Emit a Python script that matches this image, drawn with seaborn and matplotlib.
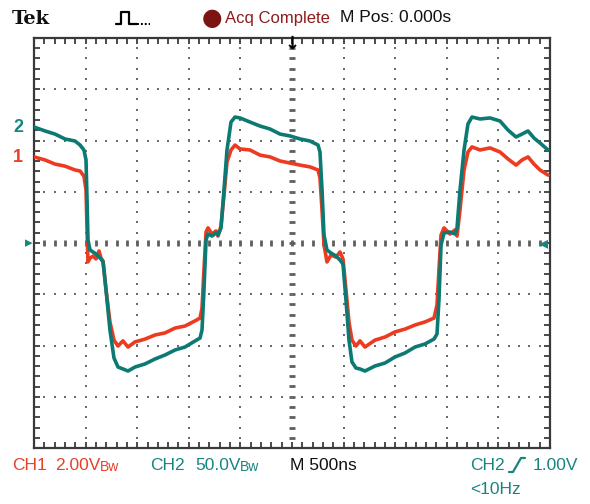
import numpy as np
import pandas as pd
import matplotlib
matplotlib.use("Agg")
import matplotlib.pyplot as plt
from matplotlib.ticker import MultipleLocator
from matplotlib.lines import Line2D
import seaborn as sns

time_ns = [-2500, -2393, -2297, -2200, -2103, -2054, -2016, -1996, -1986, -1977,
           -1957, -1928, -1899, -1870, -1851, -1831, -1802, -1764, -1725, -1686,
           -1638, -1589, -1521, -1424, -1328, -1231, -1134, -1037, -940, -891,
           -872, -853, -833, -814, -775, -736, -717, -688, -659, -630,
           -591, -552, -504, -407, -310, -213, -116, -19, 78, 174,
           252, 271, 291, 310, 339, 378, 426, 465, 494, 523,
           552, 581, 620, 659, 707, 804, 901, 998, 1095, 1192,
           1289, 1376, 1405, 1424, 1444, 1473, 1531, 1580, 1599, 1628,
           1667, 1705, 1744, 1822, 1919, 2016, 2093, 2171, 2229, 2287,
           2345, 2403, 2481]

ch1_volts = [3.36, 3.24, 3.08, 3.00, 2.85, 2.81, 2.61, 2.07, 0.51, -0.74,
             -0.59, -0.51, -0.62, -0.31, -0.59, -0.70, -1.83, -3.08, -3.79, -4.02,
             -3.82, -4.06, -3.86, -3.75, -3.59, -3.51, -3.32, -3.24, -3.04, -2.93,
             -2.54, -1.05, 0.43, 0.59, 0.35, 0.47, 0.27, 0.66, 1.87, 3.16,
             3.63, 3.82, 3.67, 3.63, 3.43, 3.36, 3.20, 3.12, 3.04, 2.97,
             2.85, 2.54, 1.29, -0.08, -0.74, -0.47, -0.55, -0.35, -0.62, -1.83,
             -3.08, -3.79, -4.02, -3.82, -4.06, -3.79, -3.67, -3.47, -3.36, -3.20,
             -3.08, -2.93, -2.42, -1.05, 0.31, 0.59, 0.35, 0.51, 0.27, 1.29,
             2.85, 3.55, 3.75, 3.63, 3.71, 3.55, 3.28, 3.04, 3.24, 3.36,
             3.08, 2.85, 2.65]

ch2_volts = [113.2, 109.3, 106.3, 101.5, 99.5, 95.6, 90.7, 81.0, 42.0, 2.9,
             -6.8, -8.8, -10.7, -13.7, -15.6, -18.5, -45.9, -84.9, -112.2, -121.0,
             -122.9, -124.9, -121.0, -118.0, -113.2, -109.3, -104.4, -101.5, -95.6, -92.7,
             -84.9, -45.9, 2.9, 8.8, 6.8, 9.8, 7.8, 14.6, 51.7, 90.7,
             118.0, 122.9, 122.0, 118.0, 114.1, 111.2, 106.3, 104.4, 101.5, 99.5,
             95.6, 88.8, 51.7, 7.8, -6.8, -9.8, -12.7, -16.6, -20.5, -55.6,
             -94.6, -116.1, -122.0, -122.9, -124.9, -120.0, -117.1, -111.2, -107.3, -101.5,
             -98.5, -93.7, -88.8, -55.6, -2.0, 9.8, 10.7, 8.8, 14.6, 51.7,
             90.7, 116.1, 122.9, 121.0, 122.0, 119.0, 110.2, 103.4, 106.3, 109.3,
             102.4, 97.6, 90.7]

channels = ["CH1", "CH2"]
volts_per_div = [2.0, 50.0]
ns_per_div = 500
channel_colors = ["#ec3b20", "#0c7a72"]

# ---- style ----
sns.set_style("white")
plt.rcParams["font.family"] = ["Liberation Sans", "DejaVu Sans"]

fig = plt.figure(figsize=(5.9, 5.04), dpi=100)
fig.patch.set_facecolor("white")
ax = fig.add_axes([34 / 590, 56 / 504, 516 / 590, 410 / 504])
ax.set_xlim(-5 * ns_per_div, 5 * ns_per_div)
ax.set_ylim(-4, 4)

# graticule
dot_c = "#6c6c6c"
fine_y = np.arange(-4, 4.001, 0.2)[1:-1]
fine_x = np.arange(-5 * ns_per_div, 5 * ns_per_div + 1, ns_per_div * 0.2)[1:-1]
for k in range(-4, 5):
    xv = k * ns_per_div
    if k == 0:
        ax.plot([xv] * len(fine_y), fine_y, ls="none", marker="_", ms=4.5, mew=2.0,
                color="#5e5e5e", zorder=1)
    else:
        ax.plot([xv] * len(fine_y), fine_y, ls="none", marker="s", ms=2.1, mew=0,
                color=dot_c, zorder=1)
for k in range(-3, 4):
    if k == 0:
        ax.plot(fine_x, [0] * len(fine_x), ls="none", marker="|", ms=4.5, mew=2.0,
                color="#5e5e5e", zorder=1)
    else:
        ax.plot(fine_x, [k] * len(fine_x), ls="none", marker="s", ms=2.1, mew=0,
                color=dot_c, zorder=1)

# traces
frames = []
for name, vals, vpd in zip(channels, [ch1_volts, ch2_volts], volts_per_div):
    frames.append(pd.DataFrame({"time": time_ns,
                                "div": np.array(vals) / vpd,
                                "channel": name}))
df = pd.concat(frames, ignore_index=True)
sns.lineplot(data=df, x="time", y="div", hue="channel", hue_order=channels,
             palette=channel_colors, estimator=None, sort=False, legend=False,
             lw=2.6, ax=ax, zorder=3)

# border & ticks
for s in ax.spines.values():
    s.set_color("#3a3a3a")
    s.set_linewidth(1.6)
ax.xaxis.set_major_locator(MultipleLocator(ns_per_div))
ax.xaxis.set_minor_locator(MultipleLocator(ns_per_div * 0.2))
ax.yaxis.set_major_locator(MultipleLocator(1))
ax.yaxis.set_minor_locator(MultipleLocator(0.2))
ax.tick_params(which="both", direction="in", top=True, right=True, bottom=True,
               left=True, length=4, width=1.4, color="#4a4a4a",
               labelbottom=False, labelleft=False)
ax.set_xlabel("")
ax.set_ylabel("")

# channel markers and trigger markers
teal_t = "#17857e"
red_t = "#e8402a"
fig.text(18 / 590, 1 - 128 / 504, "2", color=teal_t, fontsize=13, fontweight="bold",
         ha="center", va="center")
fig.text(18 / 590, 1 - 158 / 504, "1", color=red_t, fontsize=13, fontweight="bold",
         ha="center", va="center")
fig.text(29 / 590, 1 - 243 / 504, "▸", color=teal_t, fontsize=11,
         ha="center", va="center", family="DejaVu Sans")
fig.text(543 / 590, 1 - 243 / 504, "◂", color=teal_t, fontsize=13,
         ha="center", va="center", family="DejaVu Sans")
fig.text(292 / 590, 1 - 44 / 504, "↓", color="black", fontsize=13, fontweight="bold",
         ha="center", va="center", family="DejaVu Sans")

# header
fig.text(12 / 590, 1 - 19 / 504, "Tek", fontsize=14, fontweight="bold",
         family="DejaVu Serif", ha="left", va="center", color="#111111")
pulse_x = [116, 121, 121, 129, 129, 137]
pulse_y = [24, 24, 12, 12, 24, 24]
fig.add_artist(Line2D([p / 590 for p in pulse_x], [1 - p / 504 for p in pulse_y],
                      color="black", lw=1.6))
fig.add_artist(Line2D([137 / 590, 150 / 590], [1 - 24 / 504, 1 - 24 / 504],
                      color="black", lw=1.4, ls=(0, (1, 1))))
fig.text(212 / 590, 1 - 18 / 504, "●", fontsize=17, color="#7d1414",
         ha="center", va="center", family="DejaVu Sans")
fig.text(225 / 590, 1 - 18 / 504, "Acq Complete", fontsize=12, color="#8e1c1c",
         ha="left", va="center")
fig.text(340 / 590, 1 - 18 / 504, "M Pos: 0.000s", fontsize=12.5, color="#111111",
         ha="left", va="center")

# footer
fy = 1 - 465 / 504
fs = 12.5
fig.text(12 / 590, fy, "CH1", fontsize=fs, color=red_t, ha="left", va="center")
fig.text(55 / 590, fy, "2.00V", fontsize=fs, color=red_t, ha="left", va="center")
fig.text(100 / 590, 1 - 467 / 504, "Bw", fontsize=10, color=red_t, ha="left",
         va="center")
fig.text(150 / 590, fy, "CH2", fontsize=fs, color=teal_t, ha="left", va="center")
fig.text(195 / 590, fy, "50.0V", fontsize=fs, color=teal_t, ha="left", va="center")
fig.text(240 / 590, 1 - 467 / 504, "Bw", fontsize=10, color=teal_t, ha="left",
         va="center")
fig.text(290 / 590, fy, "M 500ns", fontsize=fs, color="#111111", ha="left", va="center")
fig.text(470 / 590, fy, "CH2", fontsize=fs, color=teal_t, ha="left", va="center")
# rising-edge trigger symbol (no installed font has it), drawn as a shape
edge_x = [509, 513, 521, 525]
edge_y = [472, 472, 458, 458]
fig.add_artist(Line2D([p / 590 for p in edge_x], [1 - p / 504 for p in edge_y],
                      color=teal_t, lw=1.6))
fig.text(533 / 590, fy, "1.00V", fontsize=fs, color=teal_t, ha="left", va="center")
fig.text(470 / 590, 1 - 490 / 504, "<10Hz", fontsize=fs, color=teal_t, ha="left",
         va="center")

fig.savefig("out.png", dpi=100, facecolor="white")
